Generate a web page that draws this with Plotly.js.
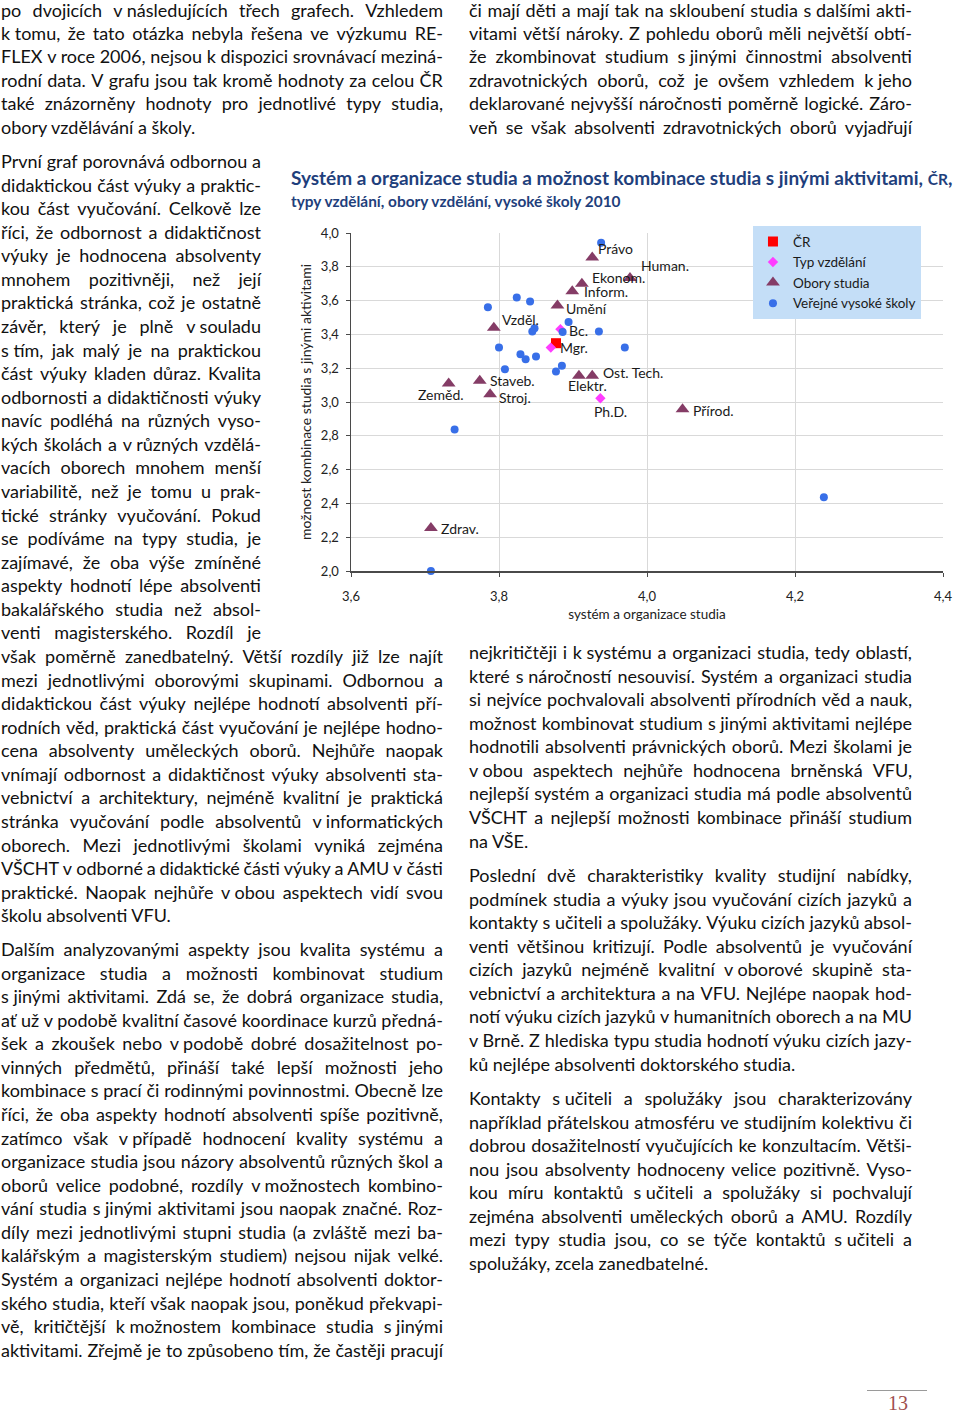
<!DOCTYPE html>
<html><head><meta charset="utf-8">
<script src="https://cdn.plot.ly/plotly-3.0.1.min.js"></script>
<style>
html,body{margin:0;padding:0;background:#fff;}
#page{position:relative;width:960px;height:1415px;overflow:hidden;font-family:Lato,'Open Sans',sans-serif;font-size:18px;color:#111;}
.ln{position:absolute;height:24px;line-height:24px;white-space:nowrap;}
.ln.j{display:flex;justify-content:space-between;}
.ln span{white-space:pre;}
#chart{position:absolute;left:285px;top:155px;width:675px;height:475px;}
#pgline{position:absolute;left:867px;top:1390px;width:60px;height:0;border-top:1px solid #9a9a9a;}
#pgnum{position:absolute;left:868px;top:1394px;width:60px;height:18px;text-align:center;font-family:'Liberation Serif','DejaVu Serif',serif;font-size:20px;color:#a0504f;line-height:18px;}
</style>
</head><body>
<div id="page">
  <div id="chart"></div>
  <div id="pgline"></div>
  <div id="pgnum">13</div>
</div>
<script>
// ---------- chart data ----------
const crName = 'ČR';
const crX = [3.877];
const crY = [3.348];

const typName = 'Typ vzdělání';
const typLabels = ['Bc.', 'Mgr.', 'Ph.D.'];
const typX = [3.883, 3.870, 3.937];
const typY = [3.431, 3.322, 3.022];

const oborName = 'Obory studia';
const oborLabels = ['Právo', 'Human.', 'Ekonom.', 'Inform.', 'Umění', 'Vzděl.', 'Staveb.', 'Stroj.', 'Zeměd.', 'Elektr.', 'Ost. Tech.', 'Přírod.', 'Zdrav.'];
const oborX = [3.926, 3.977, 3.912, 3.899, 3.879, 3.793, 3.774, 3.788, 3.732, 3.908, 3.926, 4.048, 3.708];
const oborY = [3.855, 3.734, 3.700, 3.655, 3.571, 3.440, 3.126, 3.046, 3.110, 3.156, 3.156, 2.957, 2.255];

const vsName = 'Veřejné vysoké školy';
const vsX = [3.938, 3.785, 3.824, 3.842, 3.848, 3.845, 3.800, 3.829, 3.836, 3.850, 3.808, 3.877, 3.885, 3.894, 3.886, 3.935, 3.970, 3.740, 3.708, 4.239];
const vsY = [3.942, 3.560, 3.619, 3.595, 3.437, 3.417, 3.322, 3.283, 3.253, 3.269, 3.194, 3.180, 3.214, 3.473, 3.414, 3.417, 3.322, 2.837, 2.000, 2.437];

const xTitle = 'systém a organizace studia';
const yTitle = 'možnost kombinace studia s jinými aktivitami';

// label placement (style only): [xanchor, xshift, yshift]
const typLabelPos = [['left', 8, -1], ['left', 8, 0], ['center', 10, -13]];
const oborLabelPos = [
  ['left', 5, 9], ['left', 10, 12], ['left', 9, 6], ['left', 11, 0], ['left', 8, -3], ['left', 7, 8],
  ['left', 9, 0], ['left', 8, -3], ['center', -8, -11], ['center', 9, -10], ['left', 10, 3], ['left', 9, -1], ['left', 9, -1]
];

const traces = [
  {type:'scatter', mode:'markers', name:crName, x:crX, y:crY, cliponaxis:false,
   marker:{symbol:'square', size:10, color:'#ff0000'}},
  {type:'scatter', mode:'markers', name:typName, x:typX, y:typY, text:typLabels, cliponaxis:false,
   marker:{symbol:'diamond', size:8, color:'#ff3cff'}},
  {type:'scatter', mode:'markers', name:oborName, x:oborX, y:oborY, text:oborLabels, cliponaxis:false,
   marker:{symbol:'triangle-up', size:12, color:'#853c66'}},
  {type:'scatter', mode:'markers', name:vsName, x:vsX, y:vsY, cliponaxis:false,
   marker:{symbol:'circle', size:8, color:'#386fe8'}}
];

const annotations = [];
function addLabels(labels, xs, ys, pos){
  labels.forEach((t, i) => {
    annotations.push({x:xs[i], y:ys[i], xref:'x', yref:'y', text:t, showarrow:false,
      xanchor:pos[i][0], yanchor:'middle', xshift:pos[i][1], yshift:pos[i][2],
      font:{family:'Lato, sans-serif', size:14, color:'#1a1a1a'}, borderpad:0});
  });
}
addLabels(typLabels, typX, typY, typLabelPos);
addLabels(oborLabels, oborX, oborY, oborLabelPos);

const axisCommon = {
  dtick:0.2, tickformat:'.1f', showgrid:true, gridcolor:'#d9d9d9', gridwidth:1,
  showline:true, linecolor:'#4a4a4a', linewidth:1.5, ticks:'outside', ticklen:4, tickcolor:'#4a4a4a',
  zeroline:false, tickfont:{family:'Lato, sans-serif', size:13, color:'#222'}
};

const layout = {
  width:675, height:475,
  margin:{l:66, r:17, t:78, b:59},
  paper_bgcolor:'rgba(0,0,0,0)', plot_bgcolor:'#ffffff',
  separators:', ',
  font:{family:'Lato, sans-serif', size:13, color:'#222'},
  title:{
    text:'<b><span style="font-size:19px">Systém a organizace studia a možnost kombinace studia s jinými aktivitami, </span><span style="font-size:15.5px">ČR</span><span style="font-size:19px">,</span></b><br><b><span style="font-size:15.4px">typy vzdělání, obory vzdělání, vysoké školy 2010</span></b>',
    font:{family:'Lato, sans-serif', size:17, color:'#1f3f7c'},
    xref:'container', x:6/675, xanchor:'left',
    yref:'container', y:1-30/475, yanchor:'top'
  },
  xaxis:Object.assign({}, axisCommon, {range:[3.6, 4.4], tick0:3.6, ticklabelstandoff:9,
    title:{text:xTitle, font:{size:13.5, color:'#222'}, standoff:6}}),
  yaxis:Object.assign({}, axisCommon, {range:[2, 4], tick0:2, ticklabelstandoff:4,
    title:{text:yTitle, font:{size:14, color:'#222'}, standoff:6}}),
  showlegend:true,
  legend:{x:0.679, y:1.02, xanchor:'left', yanchor:'top', bgcolor:'#c4def7', borderwidth:0,
    font:{family:'Lato, sans-serif', size:13.5, color:'#1a1a1a'}, tracegroupgap:0},
  annotations:annotations
};

Plotly.newPlot('chart', traces, layout, {displayModeBar:false, staticPlot:true});

// ---------- page text ----------
const LH = 23.57;
const textBlocks = [
  {x:1, w:442, y0:9, last:true, lines:[
    'po dvojicích v následujících třech grafech. Vzhledem',
    'k tomu, že tato otázka nebyla řešena ve výzkumu RE-',
    'FLEX v roce 2006, nejsou k dispozici srovnávací meziná-',
    'rodní data. V grafu jsou tak kromě hodnoty za celou ČR',
    'také znázorněny hodnoty pro jednotlivé typy studia,',
    'obory vzdělávání a školy.']},
  {x:469, w:443, y0:9, last:false, lines:[
    'či mají děti a mají tak na skloubení studia s dalšími akti-',
    'vitami větší nároky. Z pohledu oborů měli největší obtí-',
    'že zkombinovat studium s jinými činnostmi absolventi',
    'zdravotnických oborů, což je ovšem vzhledem k jeho',
    'deklarované nejvyšší náročnosti poměrně logické. Záro-',
    'veň se však absolventi zdravotnických oborů vyjadřují']},
  {x:1, w:260, y0:161, last:false, lines:[
    'První graf porovnává odbornou a',
    'didaktickou část výuky a praktic-',
    'kou část vyučování. Celkově lze',
    'říci, že odbornost a didaktičnost',
    'výuky je hodnocena absolventy',
    'mnohem pozitivněji, než její',
    'praktická stránka, což je ostatně',
    'závěr, který je plně v souladu',
    's tím, jak malý je na praktickou',
    'část výuky kladen důraz. Kvalita',
    'odbornosti a didaktičnosti výuky',
    'navíc podléhá na různých vyso-',
    'kých školách a v různých vzdělá-',
    'vacích oborech mnohem menší',
    'variabilitě, než je tomu u prak-',
    'tické stránky vyučování. Pokud',
    'se podíváme na typy studia, je',
    'zajímavé, že oba výše zmíněné',
    'aspekty hodnotí lépe absolventi',
    'bakalářského studia než absol-',
    'venti magisterského. Rozdíl je']},
  {x:1, w:442, y0:161 + 21*LH, last:true, lines:[
    'však poměrně zanedbatelný. Větší rozdíly již lze najít',
    'mezi jednotlivými oborovými skupinami. Odbornou a',
    'didaktickou část výuky nejlépe hodnotí absolventi pří-',
    'rodních věd, praktická část vyučování je nejlépe hodno-',
    'cena absolventy uměleckých oborů. Nejhůře naopak',
    'vnímají odbornost a didaktičnost výuky absolventi sta-',
    'vebnictví a architektury, nejméně kvalitní je praktická',
    'stránka vyučování podle absolventů v informatických',
    'oborech. Mezi jednotlivými školami vyniká zejména',
    'VŠCHT v odborné a didaktické části výuky a AMU v části',
    'praktické. Naopak nejhůře v obou aspektech vidí svou',
    'školu absolventi VFU.']},
  {x:1, w:442, y0:949, last:false, lines:[
    'Dalším analyzovanými aspekty jsou kvalita systému a',
    'organizace studia a možnosti kombinovat studium',
    's jinými aktivitami. Zdá se, že dobrá organizace studia,',
    'ať už v podobě kvalitní časové koordinace kurzů předná-',
    'šek a zkoušek nebo v podobě dobré dosažitelnost po-',
    'vinných předmětů, přináší také lepší možnosti jeho',
    'kombinace s prací či rodinnými povinnostmi. Obecně lze',
    'říci, že oba aspekty hodnotí absolventi spíše pozitivně,',
    'zatímco však v případě hodnocení kvality systému a',
    'organizace studia jsou názory absolventů různých škol a',
    'oborů velice podobné, rozdíly v možnostech kombino-',
    'vání studia s jinými aktivitami jsou naopak značné. Roz-',
    'díly mezi jednotlivými stupni studia (a zvláště mezi ba-',
    'kalářským a magisterským studiem) nejsou nijak velké.',
    'Systém a organizaci nejlépe hodnotí absolventi doktor-',
    'ského studia, kteří však naopak jsou, poněkud překvapi-',
    'vě, kritičtější k možnostem kombinace studia s jinými',
    'aktivitami. Zřejmě je to způsobeno tím, že častěji pracují']},
  {x:469, w:443, y0:652, last:true, lines:[
    'nejkritičtěji i k systému a organizaci studia, tedy oblastí,',
    'které s náročností nesouvisí. Systém a organizaci studia',
    'si nejvíce pochvalovali absolventi přírodních věd a nauk,',
    'možnost kombinovat studium s jinými aktivitami nejlépe',
    'hodnotili absolventi právnických oborů. Mezi školami je',
    'v obou aspektech nejhůře hodnocena brněnská VFU,',
    'nejlepší systém a organizaci studia má podle absolventů',
    'VŠCHT a nejlepší možnosti kombinace přináší studium',
    'na VŠE.']},
  {x:469, w:443, y0:875, last:true, lines:[
    'Poslední dvě charakteristiky kvality studijní nabídky,',
    'podmínek studia a výuky jsou vyučování cizích jazyků a',
    'kontakty s učiteli a spolužáky. Výuku cizích jazyků absol-',
    'venti většinou kritizují. Podle absolventů je vyučování',
    'cizích jazyků nejméně kvalitní v oborové skupině sta-',
    'vebnictví a architektura a na VFU. Nejlépe naopak hod-',
    'notí výuku cizích jazyků v humanitních oborech a na MU',
    'v Brně. Z hlediska typu studia hodnotí výuku cizích jazy-',
    'ků nejlépe absolventi doktorského studia.']},
  {x:469, w:443, y0:1098, last:true, lines:[
    'Kontakty s učiteli a spolužáky jsou charakterizovány',
    'například přátelskou atmosféru ve studijním kolektivu či',
    'dobrou dosažitelností vyučujících ke konzultacím. Větši-',
    'nou jsou absolventy hodnoceny velice pozitivně. Vyso-',
    'kou míru kontaktů s učiteli a spolužáky si pochvalují',
    'zejména absolventi uměleckých oborů a AMU. Rozdíly',
    'mezi typy studia jsou, co se týče kontaktů s učiteli a',
    'spolužáky, zcela zanedbatelné.']}
];

function nbsp(s){ return s.replace(/(^| )([vksz]) /g, '$1$2\u00a0'); }

const page = document.getElementById('page');
textBlocks.forEach(b => {
  b.lines.forEach((raw, i) => {
    const txt = nbsp(raw);
    const d = document.createElement('div');
    const justify = !(b.last && i === b.lines.length - 1);
    d.className = 'ln' + (justify ? ' j' : '');
    d.style.left = b.x + 'px';
    d.style.top = Math.max(0, b.y0 + i*LH - 12) + 'px';
    d.style.width = b.w + 'px';
    if (b.y0 + i*LH - 12 < 0) { d.style.height = '20px'; d.style.lineHeight = '20px'; }
    if (justify) {
      txt.split(' ').forEach(w => {
        const s = document.createElement('span');
        s.textContent = w;
        d.appendChild(s);
      });
    } else {
      const s = document.createElement('span');
      s.textContent = txt;
      d.appendChild(s);
    }
    page.appendChild(d);
    if (justify) {
      const spans = Array.from(d.children);
      let sum = 0, chars = 0;
      spans.forEach(s => { sum += s.getBoundingClientRect().width; chars += s.textContent.length; });
      const gaps = Math.max(spans.length - 1, 1);
      const minGap = 3;
      if (b.w - sum < gaps*minGap) {
        const ls = (b.w - sum - gaps*minGap) / chars;
        spans.forEach(s => { s.style.letterSpacing = ls + 'px'; });
      }
    }
  });
});
</script>
</body></html>
